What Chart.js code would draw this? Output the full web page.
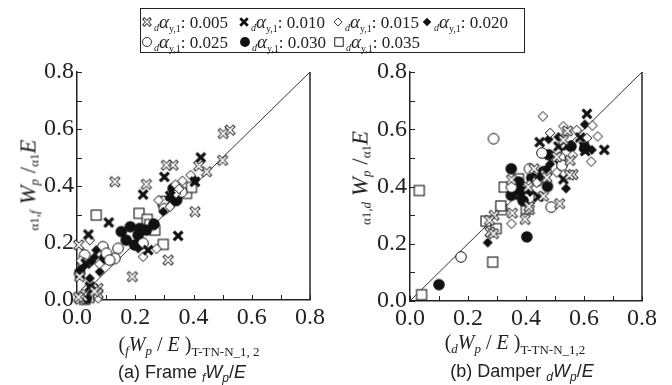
<!DOCTYPE html>
<html>
<head>
<meta charset="utf-8">
<script src="https://cdn.jsdelivr.net/npm/chart.js@4.4.1/dist/chart.umd.min.js"></script>
<style>
  body { margin: 0; background: #fff; }
  #wrap { position: relative; width: 672px; height: 385px; overflow: hidden; }
  canvas { position: absolute; left: 0; top: 0; }
  .serif { font-family: 'Liberation Serif', 'Times New Roman', serif; color: #222; white-space: nowrap; position: absolute; }
  .legend { position: absolute; left: 140px; top: 8px; width: 383px; height: 43px; border: 1px solid #222; }
  .li { position: absolute; font-size: 17px; line-height: 20px; }
  .li img { position: absolute; left: -8px; top: 2px; }
  .li .t { position: absolute; left: 7px; top: 0; white-space: nowrap; }
  .pre { font-size: 10px; font-style: italic; vertical-align: -3px; }
  .alpha { font-size: 19px; font-style: italic; }
  .sub { font-size: 10px; vertical-align: -4px; }
  .yt { transform: translate(-50%, -50%) rotate(-90deg); font-size: 23px; }
  .yt .sm { font-size: 13px; vertical-align: -3px; }
  .xt { transform: translate(-50%, -50%); font-size: 20px; }
  .xt .sm { font-size: 13px; vertical-align: -5px; }
  .xt .pi { font-size: 13px; font-style: italic; vertical-align: -4px; }
  .cap { position: absolute; transform: translate(-50%, -50%); font-family: 'Liberation Sans', Arial, sans-serif; font-size: 18px; color: #222; white-space: nowrap; }
  .cap .pi { font-size: 12px; font-style: italic; vertical-align: -4px; }
</style>
</head>
<body>
<div id="wrap">
  <canvas id="frameChart" width="672" height="385"></canvas>
  <canvas id="damperChart" width="672" height="385"></canvas>
  <div class="legend" id="legend"></div>

  <div class="serif yt" style="left:29px;top:185px"><span class="sm">α1,<i>f</i></span> <i>W</i><i class="sm">p</i> /<span class="sm">α1</span><i>E</i></div>
  <div class="serif yt" style="left:361px;top:178px"><span class="sm">α1,<i>d</i></span> <i>W</i><i class="sm">p</i> /<span class="sm">α1</span><i>E</i></div>

  <div class="serif xt" style="left:189px;top:346px">(<i class="pi">f</i><i>W</i><i class="pi">p</i> / <i>E</i> )<span class="sm">T-TN-N_1, 2</span></div>
  <div class="serif xt" style="left:515px;top:344px">(<i class="pi">d</i><i>W</i><i class="pi">p</i> / <i>E</i> )<span class="sm">T-TN-N_1,2</span></div>

  <div class="cap" style="left:182px;top:373px">(a) Frame <span class="pi">f</span><i>W</i><span class="pi">p</span>/<i>E</i></div>
  <div class="cap" style="left:522px;top:372px">(b) Damper <span class="pi">d</span><i>W</i><span class="pi">p</span>/<i>E</i></div>
</div>
<script>
// drift ratio levels (legend)
var levels = ['0.005', '0.010', '0.015', '0.020', '0.025', '0.030', '0.035'];
var tickLabels = ['0.0', '0.2', '0.4', '0.6', '0.8'];
var refLine = [0, 0.8];

// (a) Frame: [x, y] pairs per level
var frame005 = [[0.525,0.596],[0.502,0.584],[0.500,0.490],[0.445,0.450],[0.418,0.470],[0.405,0.310],[0.330,0.473],[0.307,0.473],[0.238,0.406],[0.130,0.415],[0.313,0.140],[0.190,0.082],[0.006,0.193],[0.009,0.082],[0.072,0.041],[0.072,0.023],[0.020,0.012],[0.010,0.003],[0.005,0.010],[0.060,0.030]];
var frame010 = [[0.425,0.500],[0.300,0.432],[0.227,0.370],[0.347,0.225],[0.109,0.272],[0.039,0.230],[0.244,0.175],[0.044,0.047],[0.405,0.415],[0.030,0.128],[0.010,0.090],[0.320,0.365],[0.055,0.040]];
var frame015 = [[0.390,0.438],[0.362,0.418],[0.338,0.405],[0.340,0.374],[0.280,0.350],[0.227,0.152],[0.273,0.180],[0.013,0.138],[0.044,0.210],[0.073,0.006],[0.030,0.035],[0.319,0.327],[0.077,0.126],[0.350,0.390],[0.020,0.020]];
var frame020 = [[0.336,0.391],[0.405,0.420],[0.296,0.310],[0.210,0.181],[0.066,0.175],[0.049,0.134],[0.078,0.099],[0.044,0.076],[0.009,0.105],[0.318,0.360],[0.025,0.120],[0.060,0.150],[0.330,0.340]];
var frame025 = [[0.313,0.333],[0.296,0.345],[0.141,0.181],[0.130,0.146],[0.089,0.187],[0.101,0.164],[0.026,0.158],[0.021,0.129],[0.227,0.199],[0.359,0.379],[0.112,0.140],[0.009,0.093],[0.300,0.320]];
var frame030 = [[0.152,0.240],[0.183,0.257],[0.169,0.210],[0.210,0.228],[0.215,0.251],[0.238,0.245],[0.264,0.266],[0.198,0.193],[0.342,0.350],[0.330,0.391],[0.095,0.146],[0.032,0.006],[0.215,0.195],[0.340,0.370]];
var frame035 = [[0.066,0.298],[0.213,0.304],[0.241,0.283],[0.267,0.245],[0.296,0.195],[0.296,0.345],[0.376,0.374],[0.393,0.395],[0.026,0.002],[0.041,0.009],[0.330,0.350],[0.250,0.265]];

// (b) Damper
var damper005 = [[0.276,0.241],[0.288,0.235],[0.290,0.299],[0.353,0.307],[0.397,0.285],[0.412,0.319],[0.460,0.366],[0.516,0.340],[0.562,0.442],[0.552,0.491],[0.543,0.594],[0.428,0.462],[0.350,0.424],[0.506,0.503],[0.472,0.431],[0.529,0.562],[0.274,0.282],[0.408,0.398],[0.550,0.440],[0.410,0.330]];
var damper010 = [[0.610,0.654],[0.670,0.528],[0.604,0.524],[0.443,0.364],[0.447,0.555],[0.544,0.544],[0.529,0.425],[0.587,0.571],[0.512,0.540],[0.380,0.370],[0.600,0.540]];
var damper015 = [[0.458,0.645],[0.529,0.610],[0.483,0.587],[0.610,0.569],[0.647,0.575],[0.625,0.487],[0.629,0.613],[0.561,0.509],[0.350,0.270],[0.412,0.406],[0.506,0.449],[0.437,0.413],[0.575,0.597],[0.540,0.590]];
var damper020 = [[0.268,0.204],[0.538,0.393],[0.478,0.565],[0.603,0.617],[0.627,0.528],[0.512,0.573],[0.414,0.381],[0.483,0.478],[0.445,0.430],[0.600,0.530],[0.470,0.460]];
var damper025 = [[0.288,0.567],[0.176,0.154],[0.487,0.328],[0.455,0.517],[0.412,0.462],[0.350,0.398],[0.518,0.501],[0.524,0.474],[0.440,0.420],[0.470,0.450]];
var damper030 = [[0.349,0.462],[0.349,0.369],[0.403,0.224],[0.100,0.057],[0.382,0.385],[0.390,0.350],[0.474,0.400],[0.478,0.511],[0.518,0.494],[0.555,0.540],[0.603,0.535],[0.460,0.452],[0.374,0.416],[0.420,0.430]];
var damper035 = [[0.032,0.386],[0.040,0.022],[0.285,0.136],[0.262,0.279],[0.297,0.253],[0.316,0.319],[0.313,0.332],[0.325,0.398],[0.374,0.427],[0.411,0.360],[0.401,0.322]];

var frameSets = [frame005, frame010, frame015, frame020, frame025, frame030, frame035];
var damperSets = [damper005, damper010, damper015, damper020, damper025, damper030, damper035];
var markerKinds = ['xOutline', 'xBold', 'diamond', 'diamondFill', 'circle', 'circleFill', 'square'];

Chart.defaults.font.family = "'Liberation Serif', serif";
Chart.defaults.color = '#222';

// small canvases used as point styles
function makeMarker(kind, size) {
    var c = document.createElement('canvas');
    c.width = 16; c.height = 16;
    var g = c.getContext('2d');
    g.translate(8, 8);
    g.scale(size, size);
    g.strokeStyle = '#111';
    g.fillStyle = '#111';
    function cross(r) {
        g.beginPath();
        g.moveTo(-r, -r); g.lineTo(r, r);
        g.moveTo(r, -r); g.lineTo(-r, r);
        g.stroke();
    }
    function diamond(r) {
        g.beginPath();
        g.moveTo(0, -r); g.lineTo(r, 0); g.lineTo(0, r); g.lineTo(-r, 0);
        g.closePath();
    }
    if (kind === 'xOutline') {
        g.strokeStyle = '#333'; g.lineWidth = 3.6; cross(4.5);
        g.strokeStyle = '#fff'; g.lineWidth = 1.6; cross(3.6);
    } else if (kind === 'xBold') {
        g.lineWidth = 3.2; cross(4.4);
    } else if (kind === 'diamond') {
        diamond(4.8); g.fillStyle = '#fff'; g.fill(); g.lineWidth = 1; g.stroke();
    } else if (kind === 'diamondFill') {
        diamond(5); g.fill();
    } else if (kind === 'circle') {
        g.beginPath(); g.arc(0, 0, 5.3, 0, Math.PI * 2);
        g.fillStyle = '#fff'; g.fill(); g.lineWidth = 1; g.stroke();
    } else if (kind === 'circleFill') {
        g.beginPath(); g.arc(0, 0, 5.8, 0, Math.PI * 2); g.fill();
    } else {
        g.fillStyle = '#fff'; g.fillRect(-5, -5, 10, 10);
        g.lineWidth = 1.1; g.strokeRect(-5, -5, 10, 10);
    }
    return c;
}
var markers = markerKinds.map(function(k) { return makeMarker(k, 1); });
var legendMarkers = markerKinds.map(function(k) { return makeMarker(k, 0.85); });

// legend (HTML so the subscripts stay as text)
var legendPos = [[6, 3], [103, 3], [197, 3], [286, 3], [6, 23], [104, 23], [198, 23]];
var legendEl = document.getElementById('legend');
levels.forEach(function(lv, i) {
    var item = document.createElement('div');
    item.className = 'li serif';
    item.style.left = legendPos[i][0] + 'px';
    item.style.top = legendPos[i][1] + 'px';
    var img = document.createElement('img');
    img.src = legendMarkers[i].toDataURL();
    item.appendChild(img);
    var t = document.createElement('span');
    t.className = 't';
    t.innerHTML = '<span class="pre">d</span><span class="alpha">α</span><span class="sub">y,1</span>: ' + lv;
    item.appendChild(t);
    legendEl.appendChild(item);
});

var innerTicks = {
    id: 'innerTicks',
    beforeDatasetsDraw: function(chart) {
        var ctx = chart.ctx, a = chart.chartArea;
        var xs = chart.scales.x, ys = chart.scales.y;
        ctx.save();
        ctx.strokeStyle = '#222';
        ctx.lineWidth = 1;
        ctx.beginPath();
        xs.ticks.forEach(function(t) {
            var px = Math.round(xs.getPixelForValue(t.value)) + 0.5;
            ctx.moveTo(px, a.bottom); ctx.lineTo(px, a.bottom - 5);
        });
        ys.ticks.forEach(function(t) {
            var py = Math.round(ys.getPixelForValue(t.value)) + 0.5;
            ctx.moveTo(a.left, py); ctx.lineTo(a.left + 5, py);
        });
        ctx.stroke();
        ctx.lineWidth = 1.5;
        ctx.beginPath();
        ctx.moveTo(a.right, a.top); ctx.lineTo(a.right, a.bottom);
        ctx.stroke();
        ctx.restore();
    }
};

function tickLabel(v) {
    var k = Math.round(v * 10);
    return k % 2 === 0 ? tickLabels[k / 2] : '';
}

function axis(fitFn) {
    return {
        type: 'linear',
        min: 0,
        max: 0.8,
        grid: { display: false, drawTicks: false },
        border: { color: '#222', width: 1.5 },
        ticks: {
            stepSize: 0.1,
            autoSkip: false,
            maxRotation: 0,
            padding: 3,
            color: '#222',
            font: { family: "'Liberation Serif', serif", size: 24 },
            callback: tickLabel
        },
        afterFit: fitFn
    };
}

function buildChart(id, sets, pad) {
    var datasets = sets.map(function(pts, i) {
        return {
            label: levels[i],
            data: pts.map(function(p) { return { x: p[0], y: p[1] }; }),
            pointStyle: markers[i],
            pointRadius: 6,
            clip: false,
            order: 1
        };
    });
    datasets.push({
        type: 'line',
        label: 'ref',
        data: refLine.map(function(v) { return { x: v, y: v }; }),
        borderColor: '#333',
        borderWidth: 1,
        pointRadius: 0,
        order: 10
    });
    return new Chart(document.getElementById(id), {
        type: 'scatter',
        data: { datasets: datasets },
        options: {
            responsive: false,
            animation: false,
            devicePixelRatio: 1,
            layout: { padding: pad },
            plugins: { legend: { display: false }, tooltip: { enabled: false } },
            scales: {
                x: axis(function(s) { s.height = 40; }),
                y: axis(function(s) { s.width = 40; })
            }
        },
        plugins: [innerTicks]
    });
}

buildChart('frameChart', frameSets, { left: 37, right: 362, top: 72, bottom: 45 });
buildChart('damperChart', damperSets, { left: 370, right: 30, top: 72, bottom: 44 });
</script>
</body>
</html>
